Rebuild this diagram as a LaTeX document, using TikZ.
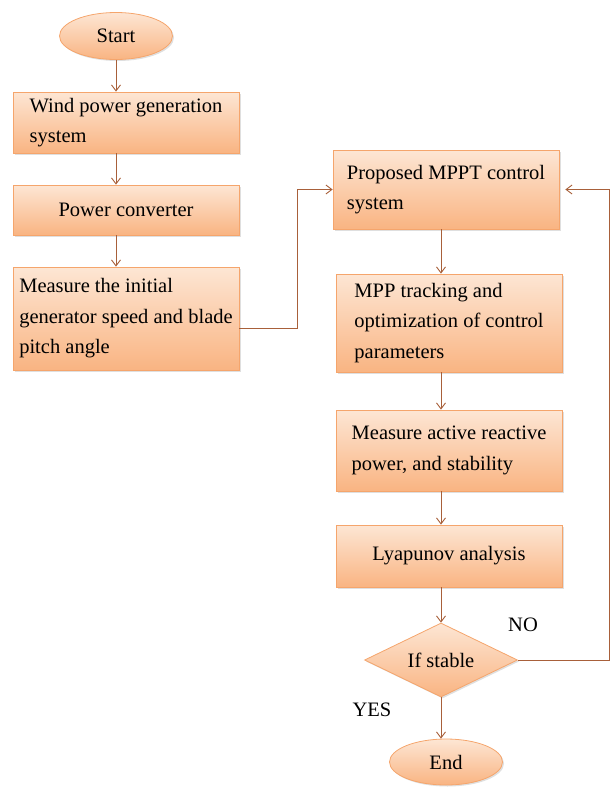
\documentclass[tikz,border=0pt]{standalone}
\usepackage{fontspec}
\setmainfont{Liberation Serif}
\usetikzlibrary{arrows.meta,shapes.geometric,shadows}

\definecolor{peachtop}{HTML}{FDE6D4}
\definecolor{peachbot}{HTML}{F9B482}
\definecolor{peachline}{HTML}{F5A56C}
\definecolor{linkcol}{HTML}{A8603A}

\begin{document}
\begin{tikzpicture}[x=1pt,y=-1pt,
  box/.style={rectangle, draw=peachline, line width=0.8pt, top color=peachtop, bottom color=peachbot,
    drop shadow={opacity=0.25, shadow xshift=1.5pt, shadow yshift=-1.5pt},
    minimum width=226pt, align=left, inner sep=0pt, font=\fontsize{20.5}{30.5}\selectfont},
  term/.style={ellipse, draw=peachline, line width=0.8pt, top color=peachtop, bottom color=peachbot,
    drop shadow={opacity=0.25, shadow xshift=1.5pt, shadow yshift=-1.5pt},
    minimum width=113pt, minimum height=47pt, inner sep=0pt, font=\fontsize{20.5}{30.5}\selectfont},
  test/.style={diamond, aspect=2, draw=peachline, line width=0.8pt, top color=peachtop, bottom color=peachbot,
    drop shadow={opacity=0.25, shadow xshift=1.5pt, shadow yshift=-1.5pt},
    minimum width=153pt, minimum height=74pt, inner sep=0pt, font=\fontsize{20.5}{30.5}\selectfont},
  link/.style={linkcol, line width=0.9pt, -{Straight Barb[length=6pt, width=9pt]}},
  tag/.style={font=\fontsize{20.5}{30.5}\selectfont}]
\useasboundingbox (0,0) rectangle (611,787);

% left column
\node[term] (start) at (116,36) {Start};
\node[box, minimum height=61pt] (wind) at (126,122.5) {Wind power generation\\system};
\node[box, minimum height=50pt] (conv) at (126,210) {Power converter};
\node[box, minimum height=103pt] (meas) at (126,318.5) {Measure the initial\\generator speed and blade\\pitch angle};

% right column
\node[box, minimum height=79pt] (mppt) at (446,189.5) {Proposed MPPT control\\system};
\node[box, minimum height=98pt] (track) at (449,323) {MPP tracking and\\optimization of control\\parameters};
\node[box, minimum height=81pt] (power) at (449,450.5) {Measure active reactive\\power, and stability};
\node[box, minimum height=62pt] (lyap) at (449,556) {Lyapunov analysis};
\node[test] (stab) at (441,660) {If stable};
\node[term, minimum height=46pt] (end) at (446,762) {End};

\node[tag] (no) at (523,625) {NO};
\node[tag] (yes) at (372,710) {YES};
\coordinate (loop) at (609,660);

\draw[link] (start.south) -- (start.south |- wind.north);
\draw[link] (start.south |- wind.south) -- (start.south |- conv.north);
\draw[link] (start.south |- conv.south) -- (start.south |- meas.north);
\draw[link] ([yshift=-10pt]meas.east) -- ++(58,0) |- (mppt.west);
\draw[link] (stab.north |- mppt.south) -- (stab.north |- track.north);
\draw[link] (stab.north |- track.south) -- (stab.north |- power.north);
\draw[link] (stab.north |- power.south) -- (stab.north |- lyap.north);
\draw[link] (stab.north |- lyap.south) -- (stab.north);
\draw[link] (stab.south) -- (stab.south |- end.north);
\draw[link] (stab.east) -- (loop) |- ([xshift=6pt]mppt.east);
\end{tikzpicture}
\end{document}
